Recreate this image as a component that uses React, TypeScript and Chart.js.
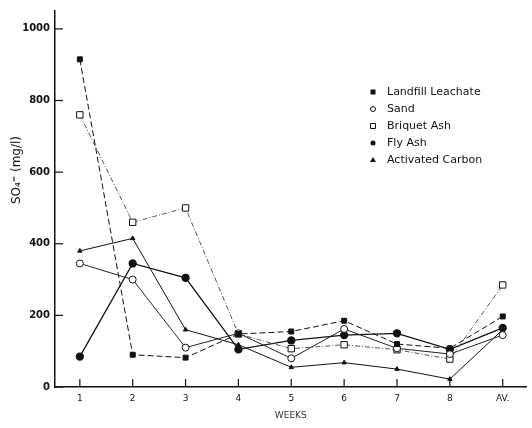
import React, { useEffect, useRef } from "react";
import { Chart, registerables } from "chart.js";

Chart.register(...registerables);

const weeks = ["1", "2", "3", "4", "5", "6", "7", "8", "AV."];
const yTicks = [0, 200, 400, 600, 800, 1000];

const landfillLeachate = [915, 90, 82, 148, 155, 185, 120, 108, 197];
const sand = [345, 300, 110, 150, 80, 162, 108, 92, 145];
const briquetAsh = [760, 460, 500, 148, 107, 118, 104, 78, 285];
const flyAsh = [85, 345, 305, 105, 130, 145, 150, 105, 165];
const activatedCarbon = [380, 415, 160, 118, 55, 68, 50, 22, 160];

const toPoints = (arr: number[]) => arr.map((y, i) => ({ x: i + 1, y }));

const FONT = "'DejaVu Sans', 'Liberation Sans', sans-serif";

const overlayPlugin = {
  id: "overlay",
  afterDraw(chart: any) {
    const ctx = chart.ctx as CanvasRenderingContext2D;
    const xs = chart.scales.x;
    const ys = chart.scales.y;
    ctx.save();
    ctx.strokeStyle = "#111";
    ctx.lineWidth = 1.2;
    yTicks.forEach((v) => {
      const py = ys.getPixelForValue(v);
      ctx.beginPath();
      ctx.moveTo(xs.left, py);
      ctx.lineTo(xs.left + 8, py);
      ctx.stroke();
    });
    weeks.forEach((_, i) => {
      const px = xs.getPixelForValue(i + 1);
      ctx.beginPath();
      ctx.moveTo(px, ys.bottom);
      ctx.lineTo(px, ys.bottom - 8);
      ctx.stroke();
    });
    ctx.fillStyle = "#111";
    ctx.font = `12px ${FONT}`;
    ctx.textAlign = "center";
    ctx.textBaseline = "middle";
    ctx.translate(17, 170);
    ctx.rotate(-Math.PI / 2);
    ctx.fillText("SO\u2084\u207C (mg/l)", 0, 0);
    ctx.restore();

    ctx.save();
    const lx = 373;
    const ly0 = 92;
    const step = 17;
    chart.data.datasets.forEach((ds: any, i: number) => {
      const y = ly0 + i * step;
      ctx.fillStyle = "#111";
      ctx.strokeStyle = "#111";
      ctx.lineWidth = 1;
      const st = ds.pointStyle;
      const filled = ds.pointBackgroundColor !== "#fff";
      ctx.beginPath();
      if (st === "rect") {
        ctx.rect(lx - 2.5, y - 2.5, 5, 5);
      } else if (st === "circle") {
        ctx.arc(lx, y, 2.5, 0, Math.PI * 2);
      } else {
        ctx.moveTo(lx, y - 3);
        ctx.lineTo(lx + 3, y + 2);
        ctx.lineTo(lx - 3, y + 2);
        ctx.closePath();
      }
      if (filled) ctx.fill();
      else {
        ctx.fillStyle = "#fff";
        ctx.fill();
        ctx.stroke();
      }
      ctx.fillStyle = "#111";
      ctx.font = `11px ${FONT}`;
      ctx.textAlign = "left";
      ctx.textBaseline = "middle";
      ctx.fillText(ds.label, 387, y);
    });
    ctx.restore();
  },
};

export default function App() {
  const ref = useRef<HTMLCanvasElement>(null);
  useEffect(() => {
    document.body.style.margin = "0";
    if (!ref.current) return;
    const chart = new Chart(ref.current, {
      type: "line",
      data: {
        datasets: [
          {
            label: "Landfill Leachate",
            data: toPoints(landfillLeachate),
            borderColor: "#111",
            borderWidth: 1,
            borderDash: [6, 3],
            pointStyle: "rect",
            pointRadius: 3.5,
            pointBackgroundColor: "#111",
            pointBorderColor: "#111",
          },
          {
            label: "Sand",
            data: toPoints(sand),
            borderColor: "#222",
            borderWidth: 1,
            pointStyle: "circle",
            pointRadius: 3.5,
            pointBackgroundColor: "#fff",
            pointBorderColor: "#111",
          },
          {
            label: "Briquet Ash",
            data: toPoints(briquetAsh),
            borderColor: "#555",
            borderWidth: 1,
            borderDash: [5, 2, 1, 2],
            pointStyle: "rect",
            pointRadius: 4.5,
            pointBackgroundColor: "#fff",
            pointBorderColor: "#111",
          },
          {
            label: "Fly Ash",
            data: toPoints(flyAsh),
            borderColor: "#111",
            borderWidth: 1.3,
            pointStyle: "circle",
            pointRadius: 3.5,
            pointBackgroundColor: "#111",
            pointBorderColor: "#111",
          },
          {
            label: "Activated Carbon",
            data: toPoints(activatedCarbon),
            borderColor: "#111",
            borderWidth: 1,
            pointStyle: "triangle",
            pointRadius: 2.5,
            pointBackgroundColor: "#111",
            pointBorderColor: "#111",
          },
        ],
      },
      options: {
        animation: false,
        responsive: false,
        layout: { padding: { top: 4, right: 0, left: 0, bottom: 0 } },
        plugins: { legend: { display: false }, tooltip: { enabled: false } },
        scales: {
          x: {
            type: "linear",
            min: 0.53,
            max: 9.45,
            afterBuildTicks: (s: any) => {
              s.ticks = weeks.map((_, i) => ({ value: i + 1 }));
            },
            afterFit: (s: any) => {
              s.height = 41;
            },
            grid: { display: false, drawTicks: false },
            border: { display: true, color: "#111", width: 1.5 },
            ticks: {
              autoSkip: false,
              maxRotation: 0,
              padding: 6,
              color: "#111",
              font: { family: FONT, size: 9 },
              callback: (v: any) => weeks[Number(v) - 1] ?? "",
            },
            title: {
              display: true,
              text: "WEEKS",
              color: "#333",
              font: { family: FONT, size: 9 },
              padding: { top: 0, bottom: 7 },
            },
          },
          y: {
            min: 0,
            max: 1050,
            afterBuildTicks: (s: any) => {
              s.ticks = yTicks.map((v) => ({ value: v }));
            },
            afterFit: (s: any) => {
              s.width = 55;
            },
            grid: { display: false, drawTicks: false },
            border: { display: true, color: "#111", width: 1.5 },
            ticks: {
              padding: 5,
              color: "#111",
              font: { family: FONT, size: 10, weight: "bold" },
              callback: (v: any) => String(v),
            },
          },
        },
      },
      plugins: [overlayPlugin],
    });
    return () => chart.destroy();
  }, []);
  return <canvas ref={ref} width={532} height={428} />;
}
